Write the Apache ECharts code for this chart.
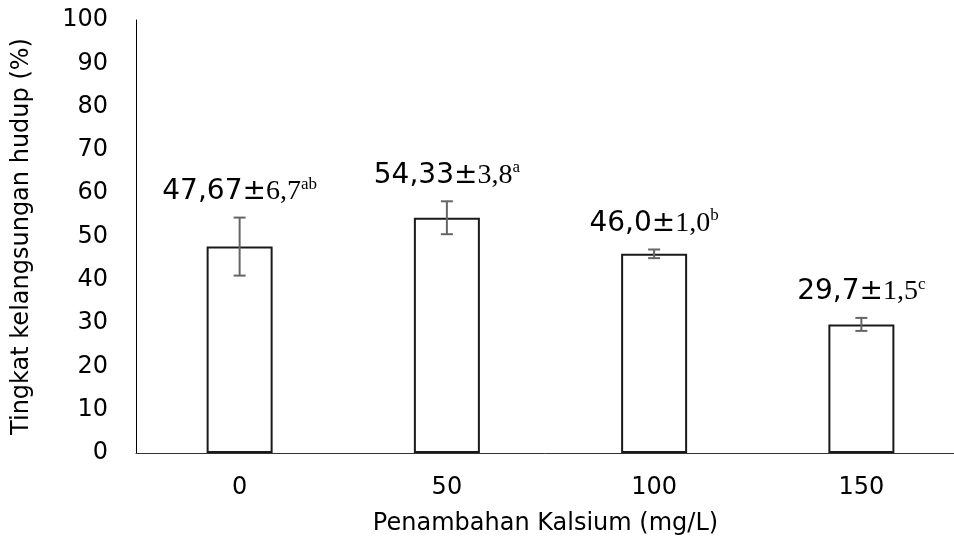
<!DOCTYPE html>
<html>
<head>
<meta charset="utf-8">
<script src="https://cdn.jsdelivr.net/npm/echarts@6/dist/echarts.min.js"></script>
<style>
  html, body { margin: 0; padding: 0; background: #fff; }
  #main { width: 954px; height: 546px; }
</style>
</head>
<body>
<div id="main"></div>
<script>
// data
var categories = ['0', '50', '100', '150'];
var means = [47.67, 54.33, 46.0, 29.7];
var sds = [6.7, 3.8, 1.0, 1.5];
var meanText = ['47,67', '54,33', '46,0', '29,7'];
var sdText = ['6,7', '3,8', '1,0', '1,5'];
var letters = ['ab', 'a', 'b', 'c'];
var yTicks = [0, 100, 10]; // min, max, interval

var sansFont = 'DejaVu Sans';
var serifFont = 'Liberation Serif';

var myChart = echarts.init(document.getElementById('main'), null, { renderer: 'canvas' });

var errData = means.map(function (m, i) { return [i, m - sds[i], m + sds[i]]; });

var option = {
    backgroundColor: '#fff',
    animation: false,
    // the original plot area runs a little past the right edge
    grid: { left: 136, width: 829, top: 20, height: 433, outerBoundsMode: 'none', containLabel: false },
    xAxis: {
        type: 'category',
        data: categories,
        name: 'Penambahan Kalsium (mg/L)',
        nameLocation: 'middle',
        nameGap: 59,
        nameTextStyle: { fontFamily: sansFont, fontSize: 24, color: '#000', padding: [0, 0, 0, -10] },
        axisLine: { lineStyle: { color: '#333', width: 1 } },
        axisTick: { show: false },
        axisLabel: { fontFamily: sansFont, fontSize: 24, color: '#000', margin: 23 }
    },
    yAxis: {
        type: 'value',
        min: yTicks[0],
        max: yTicks[1],
        interval: yTicks[2],
        name: 'Tingkat kelangsungan hudup (%)',
        nameLocation: 'middle',
        nameGap: 102,
        nameTextStyle: { fontFamily: sansFont, fontSize: 24, color: '#000' },
        axisLine: { show: true, lineStyle: { color: '#000', width: 1 } },
        axisTick: { show: false },
        splitLine: { show: false },
        axisLabel: { fontFamily: sansFont, fontSize: 24, color: '#000', margin: 28 }
    },
    series: [
        {
            type: 'bar',
            data: means,
            barWidth: 66,
            itemStyle: { color: '#fff', borderColor: '#1a1a1a', borderWidth: 2 }
        },
        {
            type: 'custom',
            data: errData,
            z: 10,
            renderItem: function (params, api) {
                var i = api.value(0);
                var lo = api.coord([i, api.value(1)]);
                var hi = api.coord([i, api.value(2)]);
                var cap = 6;
                var st = { stroke: '#666', lineWidth: 2 };
                return {
                    type: 'group',
                    children: [
                        { type: 'line', shape: { x1: lo[0], y1: lo[1], x2: hi[0], y2: hi[1] }, style: st },
                        { type: 'line', shape: { x1: lo[0] - cap, y1: lo[1], x2: lo[0] + cap, y2: lo[1] }, style: st },
                        { type: 'line', shape: { x1: hi[0] - cap, y1: hi[1], x2: hi[0] + cap, y2: hi[1] }, style: st },
                        {
                            type: 'text',
                            x: hi[0],
                            y: hi[1] - 12,
                            style: {
                                text: '{m|' + meanText[i] + '±}{s|' + sdText[i] + '}{l|' + letters[i] + '}',
                                align: 'center',
                                verticalAlign: 'bottom',
                                rich: {
                                    m: { fontFamily: sansFont, fontSize: 28, color: '#000', verticalAlign: 'bottom', lineHeight: 30 },
                                    s: { fontFamily: serifFont, fontSize: 28, color: '#000', verticalAlign: 'bottom', lineHeight: 30 },
                                    l: { fontFamily: serifFont, fontSize: 17, color: '#000', verticalAlign: 'top', lineHeight: 30 }
                                }
                            }
                        }
                    ]
                };
            }
        }
    ]
};

myChart.setOption(option);
</script>
</body>
</html>
